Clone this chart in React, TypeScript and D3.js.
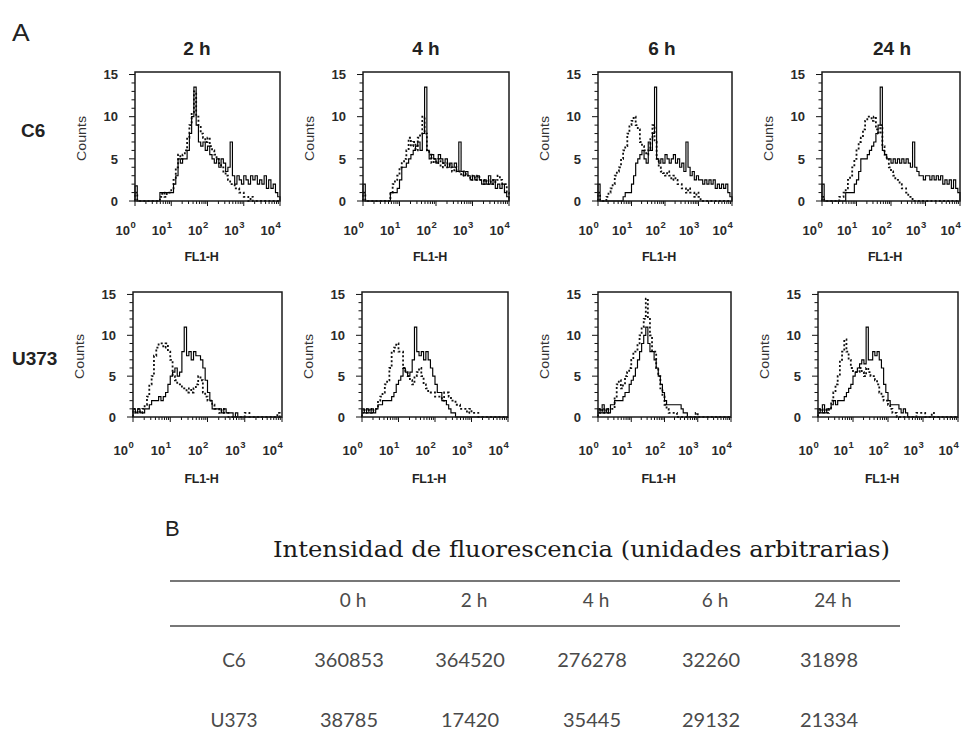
import React from 'react';
import * as d3 from 'd3';

const W = 970;
const H = 747;

// Flow-cytometry histograms: counts per channel bin, 16 bins per decade over 10^0..10^4
const BINS_PER_DECADE = 16;
const Y_MAX = 15.3;

const timeLabels = ['2 h', '4 h', '6 h', '24 h'];
const cellLines = ['C6', 'U373'];
const yTickValues = [0, 5, 10, 15];

// C6 — solid trace
const c6Solid2h = [1.8, 0, 0, 0, 0, 0, 0, 0, 0, 0, 0, 1, 1, 1, 1, 1, 1, 2, 3, 5, 4.5, 5, 5, 6, 8, 10, 13.5, 9, 7, 6.5, 7, 6, 6.5, 5.5, 5, 4.5, 5, 4, 5, 4.5, 3.5, 4, 7, 3, 2, 3, 2.5, 2, 3, 2.5, 2, 3, 2.5, 3, 2, 2.5, 2, 3, 1.5, 2.5, 1.5, 2, 1, 0.5];
const c6Solid4h = [2, 0, 0, 0, 0, 0, 0, 0, 0, 0, 0, 0, 1, 1, 1, 1.5, 2.5, 4, 4, 4.5, 5, 5.5, 6, 6.5, 7, 6, 8, 13.5, 6, 5, 5.5, 5, 4.5, 5.5, 5, 4.5, 5, 4, 4.5, 4, 4.5, 3.5, 7, 3.5, 3, 3.5, 3, 2.5, 3, 2.5, 3, 2.5, 2, 2.5, 2, 3, 2, 2.5, 1.5, 2, 1.5, 2, 1, 0.5];
const c6Solid6h = [2, 0, 0, 0, 0, 0, 0, 0, 0, 0, 0, 0, 0.5, 1, 1, 1, 2, 3, 4.5, 5, 5.5, 6, 5, 4.5, 7, 6, 8, 13.5, 5, 4.5, 5, 4.5, 5.5, 5, 4.5, 5, 5.5, 4.5, 5, 4, 4.5, 3.5, 7, 4, 3, 3.5, 2.5, 3, 2.5, 2.5, 2, 2.5, 2, 2.5, 2, 2.5, 1.5, 2, 1.5, 2, 1.5, 2, 1, 0.5];
const c6Solid24h = [2, 0, 0, 0, 0, 0, 0, 0, 0, 0, 0, 1, 1, 1, 1, 2, 2.5, 3.5, 5, 5, 5, 5.5, 6, 6.5, 7, 8, 9, 13.5, 6, 5.5, 5, 5, 4.5, 5, 4.5, 5, 4.5, 5, 4.5, 5, 4.5, 4, 7, 4, 3.5, 3, 3, 2.5, 3, 3, 2.5, 3, 2.5, 3, 2.5, 3, 2, 2.5, 2, 2.5, 1.5, 2.5, 1.5, 1];

// C6 — dotted trace
const c6Dotted2h = [1, 0, 0, 0, 0, 0, 0, 0, 0, 0, 0, 0.5, 1, 0.5, 1, 1, 1.5, 2.5, 4, 5.5, 5, 5.5, 6, 7.5, 9, 10.5, 13, 10, 9, 8, 7.5, 7, 7.5, 6.5, 6, 5.5, 5, 4.5, 4, 3.5, 3, 2.5, 2, 2, 1.5, 1.5, 1, 1, 0.5, 0.5, 0, 0.5, 0, 0, 0, 0, 0, 0, 0, 0, 0, 0, 0, 0];
const c6Dotted4h = [1, 0, 0, 0, 0, 0, 0, 0, 0, 0, 0, 0, 1, 2, 2.5, 3, 4, 4.5, 5, 6, 7.5, 6.5, 7, 6, 7.5, 8, 10, 8, 6, 5.5, 4.5, 5, 4.5, 5, 4, 4.5, 4, 4.5, 4, 3.5, 4, 3.5, 3.5, 3, 3.5, 3, 3, 2.5, 3, 2.5, 3, 2.5, 2.5, 2, 2.5, 2, 2.5, 2, 2.5, 3, 2.5, 2, 2, 1];
const c6Dotted6h = [1, 0, 0, 0, 0.5, 1, 1.5, 2, 3, 3.5, 4, 5, 6, 6.5, 8, 9, 9.5, 10, 9, 8.5, 7, 6.5, 6, 5.5, 6, 7.5, 9, 7, 5, 4, 3.5, 3.3, 3, 3.5, 3, 2.5, 3, 2.5, 2, 2, 1.5, 1.5, 1, 1.5, 1, 1, 0.5, 1, 0.5, 0, 0, 0, 0, 0, 0, 0, 0, 0, 0, 0, 0, 0, 0, 0];
const c6Dotted24h = [0.5, 0, 0, 0, 0, 0, 0, 0, 0.5, 0.5, 1, 1.5, 2.5, 3, 4, 5, 6, 7, 7.5, 8.5, 9.5, 10, 10, 9.5, 10, 8.5, 8, 9, 6.5, 5.5, 5, 4, 3.5, 3, 2.5, 2.5, 2, 1.5, 1.5, 1, 0.5, 0.5, 0, 0, 0, 0, 0, 0, 0, 0, 0, 0, 0, 0, 0, 0, 0, 0, 0, 0, 0, 0, 0, 0];

// U373 — solid trace
const u373Solid2h = [1, 0.5, 1, 0.5, 0.5, 1, 1, 1.5, 2, 2, 2, 2.5, 2, 2.5, 3, 4, 5, 5.5, 6, 5, 5.5, 8, 11, 7.5, 8, 7, 8, 7.5, 7.5, 7, 6, 4.5, 3, 2, 1, 1, 1, 1, 0.5, 1, 0.5, 0.5, 0.5, 0, 0.5, 0, 0, 0, 0, 0, 0, 0, 0, 0, 0, 0, 0, 0, 0, 0, 0, 0, 0, 0];
const u373Solid4h = [1, 0.5, 1, 0.5, 1, 0.5, 1, 1.5, 1.5, 2, 2, 2, 2, 2.5, 3, 4, 4.5, 5, 6, 5.5, 5, 5.5, 7, 11, 8, 7.5, 8, 7, 8, 7, 6, 5, 4, 3, 3, 2, 2, 1.5, 1, 0.5, 0.5, 0, 0, 0, 0, 0, 0, 0, 0, 0, 0, 0, 0, 0, 0, 0, 0, 0, 0, 0, 0, 0, 0, 0];
const u373Solid6h = [1, 0.5, 1.5, 0.5, 1, 0.5, 1.5, 1.5, 2, 2, 2, 2, 2.5, 3, 3, 4, 4.5, 5, 6, 7, 8, 9, 10, 11, 9, 8, 8, 7, 6, 5, 4, 3, 2, 1.5, 1.5, 1.5, 1.5, 1.5, 1.5, 1.5, 1, 0.5, 0.5, 0, 0, 0, 0, 0, 0, 0, 0, 0, 0, 0, 0, 0, 0, 0, 0, 0, 0, 0, 0, 0];
const u373Solid24h = [1, 0.5, 1.5, 0.5, 1, 1, 1.5, 2, 1.5, 2, 2, 2, 2.5, 3, 3.5, 4, 5, 5.5, 6, 6.5, 7, 6.5, 11, 7, 7, 8, 7.5, 8, 7, 6, 4, 3, 2, 1.5, 1.5, 1.5, 1.5, 1, 0.5, 1, 0.5, 0, 0, 0, 0, 0, 0, 0, 0, 0, 0, 0, 0, 0, 0, 0, 0, 0, 0, 0, 0, 0, 0, 0];

// U373 — dotted trace
const u373Dotted2h = [1, 0.5, 1, 0.5, 1, 1.5, 2.5, 4, 5, 7.5, 8.5, 9, 9, 8.5, 9, 8, 7, 5, 4.5, 4, 4, 3.5, 3.5, 3, 3.5, 3, 3.5, 4, 5, 4.5, 3, 2.5, 2, 2, 1.5, 1, 1, 0.5, 1, 0.5, 0.5, 0, 0, 0, 0, 0, 0, 0, 0.5, 0.5, 0, 0, 0, 0, 0, 0, 0, 0, 0, 0, 0, 0, 0.5, 0];
const u373Dotted4h = [0.5, 1, 0.5, 1, 0.5, 1, 1, 2, 2.5, 3, 4, 4.5, 6, 8, 8.5, 9, 8, 8, 6, 5.5, 5, 4.5, 4, 5, 5.5, 6, 5, 4, 3.5, 3, 3, 3, 2.5, 2.5, 2.5, 2, 3, 3, 2.5, 2, 2, 1.5, 1.5, 1, 1, 1, 0.5, 1, 0.5, 0.5, 0.5, 0, 0, 0, 0, 0, 0, 0, 0, 0, 0, 0, 0, 0];
const u373Dotted6h = [0.5, 1, 0.5, 1, 0.5, 1, 1, 1, 2.5, 4, 4.5, 3.5, 4, 5, 5.5, 6, 7, 8, 8, 9, 10, 11, 12, 14.5, 12, 10, 8, 8, 6, 5, 3.5, 2.5, 1.5, 1, 0.5, 0.5, 0.5, 0.5, 0, 0, 0, 0, 0, 0, 0, 0, 0, 0.5, 0, 0, 0, 0, 0, 0, 0, 0, 0, 0, 0, 0, 0, 0, 0, 0];
const u373Dotted24h = [0.5, 1, 0.5, 1, 0.5, 1, 2, 3, 4, 5, 7, 8, 9.5, 8, 7, 6, 5.5, 5.5, 5.5, 6, 5.5, 5, 6, 5.5, 5, 5, 4.5, 4, 3, 2.5, 2, 2, 1.5, 1, 0.5, 0.5, 0, 0, 0, 0, 0, 0, 0, 0, 0, 0.5, 0.5, 0.5, 0.5, 0, 0, 0, 0.5, 0, 0, 0, 0, 0, 0, 0, 0, 0, 0, 0];

const solidSeries = [
  [c6Solid2h, c6Solid4h, c6Solid6h, c6Solid24h],
  [u373Solid2h, u373Solid4h, u373Solid6h, u373Solid24h],
];
const dottedSeries = [
  [c6Dotted2h, c6Dotted4h, c6Dotted6h, c6Dotted24h],
  [u373Dotted2h, u373Dotted4h, u373Dotted6h, u373Dotted24h],
];

// Table B: fluorescence intensity (arbitrary units)
const tableTitle = 'Intensidad de fluorescencia (unidades arbitrarias)';
const tableHours = ['0 h', '2 h', '4 h', '6 h', '24 h'];
const tableRows = ['C6', 'U373'];
const c6Intensity = [360853, 364520, 276278, 32260, 31898];
const u373Intensity = [38785, 17420, 35445, 29132, 21334];
const tableValues = [c6Intensity, u373Intensity];

// Frame geometry for the two rows of panels
const rowFrames = [
  { top: 72, zero: 201, tickLabelY: 235, axisTitleY: 261, labelY: 137, labelX: 21,
    boxes: [[135, 280], [363, 509], [598, 732], [822, 960]] },
  { top: 292, zero: 417, tickLabelY: 455, axisTitleY: 483, labelY: 365, labelX: 12,
    boxes: [[133, 282], [362, 508], [598, 731], [818, 958]] },
];
const titleX = [197, 426, 662, 892];

const SANS = '"Liberation Sans", Arial, Helvetica, sans-serif';
const TABLE_FONT = 'Lato, "Open Sans", sans-serif';

function toPoints(counts: number[]): [number, number][] {
  const pts: [number, number][] = [[1, 0]];
  counts.forEach((c, k) => pts.push([Math.pow(10, k / BINS_PER_DECADE), c]));
  pts.push([1e4, counts[counts.length - 1]]);
  pts.push([1e4, 0]);
  return pts;
}

function Panel({ left, right, top, zero, tickLabelY, axisTitleY, solid, dotted }: any) {
  const x = d3.scaleLog().domain([1, 1e4]).range([left, right]);
  const y = d3.scaleLinear().domain([0, Y_MAX]).range([zero, top]);
  const line = d3
    .line<[number, number]>()
    .x((d) => x(d[0]))
    .y((d) => y(d[1]))
    .curve(d3.curveStepAfter);

  const xTicks = x.ticks();
  const yMinor = d3.range(0, 16);
  const decades = [0, 1, 2, 3, 4];

  return (
    <g>
      {yMinor.map((v) => {
        const major = v % 5 === 0;
        return (
          <line key={'y' + v} x1={left - (major ? 6 : 3.5)} x2={left} y1={y(v)} y2={y(v)}
            stroke="#111" strokeWidth={1} />
        );
      })}
      {xTicks.map((v, i) => {
        const lv = Math.log10(v);
        const major = Math.abs(lv - Math.round(lv)) < 1e-9;
        return (
          <line key={'x' + i} x1={x(v)} x2={x(v)} y1={zero} y2={zero + (major ? 5 : 3)}
            stroke="#111" strokeWidth={1} />
        );
      })}
      <path d={line(toPoints(dotted)) || ''} fill="none" stroke="#111" strokeWidth={1.8}
        strokeDasharray="2,2.2" />
      <path d={line(toPoints(solid)) || ''} fill="none" stroke="#000" strokeWidth={1.15} />
      <rect x={left} y={top} width={right - left} height={zero - top} fill="none"
        stroke="#1a1a1a" strokeWidth={1.5} />
      {yTickValues.map((v) => (
        <text key={'yl' + v} x={left - 17} y={y(v) + 4.8} textAnchor="end" fontFamily={SANS}
          fontSize={13} fontWeight="bold" fill="#2a2a2a">{v}</text>
      ))}
      {decades.map((n) => {
        const tx = x(Math.pow(10, n));
        return (
          <g key={'xl' + n}>
            <text x={tx - 5} y={tickLabelY} textAnchor="end" fontFamily={SANS} fontSize={13}
              fontWeight="bold" fill="#2a2a2a">10</text>
            <text x={tx - 4.5} y={tickLabelY - 7} fontFamily={SANS} fontSize={9.5}
              fontWeight="bold" fill="#2a2a2a">{n}</text>
          </g>
        );
      })}
      <text x={(left + right) / 2 - 6} y={axisTitleY} textAnchor="middle" fontFamily={SANS}
        fontSize={12.5} fontWeight="bold" letterSpacing={-0.3} fill="#222">FL1-H</text>
      <text transform={`translate(${left - 49},${(top + zero) / 2 + 2}) rotate(-90)`}
        textAnchor="middle" fontFamily={SANS} fontSize={13} textLength={45}
        lengthAdjust="spacingAndGlyphs" fill="#333">Counts</text>
    </g>
  );
}

export default function App() {
  const tableColX = [234, 349, 470, 592, 711, 829];
  return (
    <svg width={W} height={H} viewBox={`0 0 ${W} ${H}`}
      style={{ position: 'absolute', left: 0, top: 0, background: '#fff' }}>
      <rect x={0} y={0} width={W} height={H} fill="#fff" />
      <text transform="translate(12,41) scale(1.15,1)" fontFamily={SANS} fontSize={23}
        fill="#222">A</text>

      {timeLabels.map((t, c) => (
        <text key={t} x={titleX[c]} y={55} textAnchor="middle" fontFamily={SANS} fontSize={19}
          fontWeight="bold" fill="#222">{t}</text>
      ))}

      {rowFrames.map((rf, r) => (
        <g key={'row' + r}>
          <text x={rf.labelX} y={rf.labelY} fontFamily={SANS} fontSize={19} fontWeight="bold"
            fill="#222">{cellLines[r]}</text>
          {rf.boxes.map(([l, rt], c) => (
            <Panel key={c} left={l} right={rt} top={rf.top} zero={rf.zero}
              tickLabelY={rf.tickLabelY} axisTitleY={rf.axisTitleY}
              solid={solidSeries[r][c]} dotted={dottedSeries[r][c]} />
          ))}
        </g>
      ))}

      <text x={165} y={536} fontFamily={SANS} fontSize={22} fill="#222">B</text>
      <text x={273} y={557} fontFamily='"DejaVu Serif", "Liberation Serif", serif' fontSize={23}
        textLength={617} lengthAdjust="spacingAndGlyphs" fill="#1a1a1a">{tableTitle}</text>
      <line x1={170} x2={900} y1={581} y2={581} stroke="#777" strokeWidth={2} />
      <line x1={170} x2={900} y1={626} y2={626} stroke="#777" strokeWidth={2} />
      {tableHours.map((h, i) => (
        <text key={h} x={tableColX[i + 1] + 4} y={607} textAnchor="middle" fontFamily={TABLE_FONT}
          fontSize={19} fill="#4a4a4a">{h}</text>
      ))}
      {tableRows.map((name, r) => (
        <g key={name}>
          <text x={tableColX[0]} y={667 + r * 60} textAnchor="middle" fontFamily={TABLE_FONT}
            fontSize={19} fill="#4a4a4a">{name}</text>
          {tableValues[r].map((v, i) => (
            <text key={i} x={tableColX[i + 1]} y={667 + r * 60} textAnchor="middle"
              fontFamily={TABLE_FONT} fontSize={20} fill="#4a4a4a">{String(v)}</text>
          ))}
        </g>
      ))}
    </svg>
  );
}
